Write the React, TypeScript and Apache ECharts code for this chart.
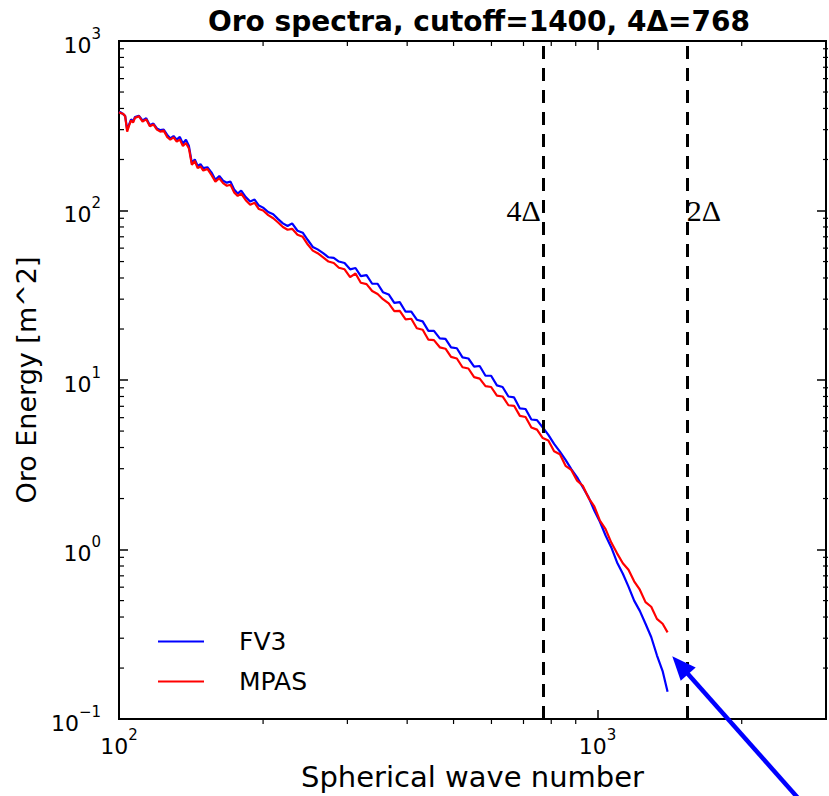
import React, { useEffect, useRef } from 'react';
import * as echarts from 'echarts';

const waveNumbers = [
  100, 101, 102, 103, 104, 105, 106, 107, 108, 110,
  112, 114, 116, 118, 120, 122, 124, 126, 128, 130,
  132, 134, 136, 138, 140, 142, 144, 146, 148, 150,
  153, 156, 159, 162, 165, 168, 171, 174, 177, 180,
  184, 188, 192, 196, 200, 205, 210, 215, 220, 225,
  230, 236, 242, 248, 254, 260, 267, 274, 281, 288,
  296, 304, 312, 320, 329, 338, 347, 356, 366, 376,
  386, 397, 408, 419, 431, 443, 455, 468, 481, 494,
  508, 522, 537, 552, 567, 583, 599, 616, 633, 651,
  669, 688, 707, 727, 747, 768, 789, 811, 834, 857,
  881, 906, 931, 957, 984, 1011, 1039, 1068, 1098, 1129,
  1160, 1192, 1225, 1259, 1294, 1330, 1367, 1400,
];

const fv3Energy = [
  382, 378, 370, 362, 300, 322, 345, 335, 356, 362,
  340, 350, 318, 326, 305, 298, 300, 280, 266, 275,
  262, 272, 248, 262, 240, 190, 200, 183, 188, 178,
  180, 168, 152, 160, 150, 146, 148, 133, 126, 131,
  120, 113, 116, 107, 104, 98, 95, 89, 84, 81,
  84, 76, 74, 67, 61, 59, 56, 53, 52.5, 50,
  49, 45, 45.8, 41, 41.6, 37, 37, 33, 32, 28.5,
  28.8, 25.3, 25.3, 22.7, 22.2, 19.5, 19.5, 17.6, 17.5, 15.6,
  15.4, 13.6, 13.4, 12, 12.1, 10.6, 10.6, 9.3, 9.1, 8,
  7.9, 6.8, 6.75, 5.85, 5.8, 5.25, 4.75, 4.2, 3.78, 3.38,
  2.98, 2.67, 2.33, 2.04, 1.7, 1.46, 1.21, 1.03, 0.84, 0.72,
  0.605, 0.5, 0.435, 0.365, 0.305, 0.238, 0.192, 0.145,
];

const mpasEnergy = [
  380, 375, 372, 360, 292, 318, 340, 330, 352, 360,
  335, 345, 314, 322, 300, 292, 296, 272, 262, 270,
  255, 262, 240, 250, 232, 186, 196, 178, 182, 172,
  176, 162, 148, 155, 145, 140, 142, 128, 122, 126,
  115, 108, 111, 102, 100, 94, 90, 85, 80, 77,
  78, 72, 70, 63, 58, 56, 53, 50, 49, 46,
  45, 40.5, 42.5, 37.5, 36.8, 33.5, 32.2, 30, 28.3, 25.5,
  25.6, 22.8, 23, 20.2, 19.8, 17.3, 17.2, 15.6, 15.3, 13.7,
  13.4, 11.9, 11.7, 10.4, 10.2, 9.2, 9.1, 8.1, 8.0, 7.1,
  7.05, 6.15, 6.05, 5.25, 5.1, 4.55, 4.4, 3.8, 3.65, 3.12,
  2.95, 2.55, 2.38, 2.02, 1.8, 1.48, 1.32, 1.1, 0.95, 0.83,
  0.76, 0.65, 0.58, 0.49, 0.46, 0.39, 0.365, 0.325,
];

const seriesNames = ['FV3', 'MPAS'];
const cutoffLines = [768, 1536];
const cutoffLabels = ['4Δ', '2Δ'];
const labelLevel = 100;
const arrowTipPoint = [1432, 0.235];
const xMinorTicks = [200, 300, 400, 500, 600, 700, 800, 900, 2000];
const yMinorTicks = [
  0.2, 0.3, 0.4, 0.5, 0.6, 0.7, 0.8, 0.9,
  2, 3, 4, 5, 6, 7, 8, 9,
  20, 30, 40, 50, 60, 70, 80, 90,
  200, 300, 400, 500, 600, 700, 800, 900,
];

const W = 829;
const H = 796;
const GRID = { left: 119, top: 41, right: 1, bottom: 72 };
const SANS = 'DejaVu Sans';

export default function App() {
  const ref = useRef<HTMLDivElement>(null);

  useEffect(() => {
    if (!ref.current) return;
    const chart = echarts.init(ref.current, null, { renderer: 'svg' });

    const powLabel = (v: number) => {
      const lg = Math.log10(v);
      const e = Math.round(lg);
      if (Math.abs(lg - e) > 1e-6) return '';
      const exp = e < 0 ? '−' + -e : String(e);
      return `{b|10}{s|${exp}}`;
    };
    const rich = {
      b: { fontSize: 22, fontFamily: SANS, color: '#000', lineHeight: 30, verticalAlign: 'bottom' },
      s: { fontSize: 15, fontFamily: SANS, color: '#000', lineHeight: 30, verticalAlign: 'top' },
    };
    const tick = { inside: true, length: 9, lineStyle: { color: '#000', width: 1.5 } };

    const logX = { type: 'log', logBase: 10, min: 100, max: 3000, splitLine: { show: false }, axisLine: { show: false } };
    const logY = { type: 'log', logBase: 10, min: 0.1, max: 1000, splitLine: { show: false }, axisLine: { show: false } };

    chart.setOption({
      animation: false,
      backgroundColor: '#fff',
      title: {
        text: 'Oro spectra, cutoff=1400, 4Δ=768',
        left: 474,
        top: 2,
        textAlign: 'center',
        textStyle: { fontSize: 28, fontWeight: 'bold', fontFamily: SANS, color: '#000' },
      },
      grid: { ...GRID, show: true, borderColor: '#000', borderWidth: 2, backgroundColor: 'transparent' },
      legend: {
        data: seriesNames,
        orient: 'vertical',
        left: 153,
        top: 624,
        icon: 'rect',
        itemWidth: 46,
        itemHeight: 2,
        itemGap: 15,
        textStyle: { fontSize: 25, fontFamily: SANS, color: '#000', padding: [0, 0, 0, 30] },
      },
      xAxis: [
        {
          ...logX,
          position: 'bottom',
          axisTick: tick,
          axisLabel: { formatter: powLabel, rich, margin: 8, color: '#000' },
          name: 'Spherical wave number',
          nameLocation: 'middle',
          nameGap: 40,
          nameTextStyle: { fontSize: 29, fontFamily: SANS, color: '#000' },
        },
        { ...logX, position: 'top', axisTick: tick, axisLabel: { show: false } },
      ],
      yAxis: [
        {
          ...logY,
          position: 'left',
          axisTick: tick,
          axisLabel: { formatter: powLabel, rich, margin: 18, color: '#000' },
          name: 'Oro Energy [m^2]',
          nameLocation: 'middle',
          nameGap: 77,
          nameTextStyle: { fontSize: 27, fontFamily: SANS, color: '#000' },
        },
        { ...logY, position: 'right', axisTick: tick, axisLabel: { show: false } },
      ],
      series: [
        {
          name: seriesNames[0],
          type: 'line',
          xAxisIndex: 0,
          yAxisIndex: 0,
          data: waveNumbers.map((k, i) => [k, fv3Energy[i]]),
          showSymbol: false,
          lineStyle: { color: '#0000ff', width: 2.2 },
          itemStyle: { color: '#0000ff' },
          z: 2,
        },
        {
          name: seriesNames[1],
          type: 'line',
          xAxisIndex: 0,
          yAxisIndex: 0,
          data: waveNumbers.map((k, i) => [k, mpasEnergy[i]]),
          showSymbol: false,
          lineStyle: { color: '#ff0000', width: 2.2 },
          itemStyle: { color: '#ff0000' },
          z: 3,
          markLine: {
            silent: true,
            symbol: ['none', 'none'],
            label: { show: false },
            lineStyle: { color: '#000', type: [13, 9], width: 3 },
            data: cutoffLines.map((v) => ({ xAxis: v })),
          },
        },
      ],
    });

    const top = GRID.top;
    const bottom = H - GRID.bottom;
    const left = GRID.left;
    const right = W - GRID.right;
    const minorLen = 5;
    const lineStyle = { stroke: '#000', lineWidth: 1.2 };
    const graphics: any[] = [];

    xMinorTicks.forEach((v) => {
      const px = chart.convertToPixel({ xAxisIndex: 0 }, v) as number;
      graphics.push({ type: 'line', silent: true, shape: { x1: px, y1: bottom, x2: px, y2: bottom - minorLen }, style: lineStyle });
      graphics.push({ type: 'line', silent: true, shape: { x1: px, y1: top, x2: px, y2: top + minorLen }, style: lineStyle });
    });
    yMinorTicks.forEach((v) => {
      const py = chart.convertToPixel({ yAxisIndex: 0 }, v) as number;
      graphics.push({ type: 'line', silent: true, shape: { x1: left, y1: py, x2: left + minorLen, y2: py }, style: lineStyle });
      graphics.push({ type: 'line', silent: true, shape: { x1: right, y1: py, x2: right - minorLen, y2: py }, style: lineStyle });
    });

    cutoffLines.forEach((v, i) => {
      const [px, py] = chart.convertToPixel({ gridIndex: 0 }, [v, labelLevel]) as number[];
      graphics.push({
        type: 'text',
        silent: true,
        x: i === 0 ? px - 2 : px,
        y: py,
        style: {
          text: cutoffLabels[i],
          fontSize: 30,
          fontFamily: 'Liberation Serif',
          fill: '#000',
          align: i === 0 ? 'right' : 'left',
          verticalAlign: 'middle',
        },
      });
    });

    const [tx, ty] = chart.convertToPixel({ gridIndex: 0 }, arrowTipPoint) as number[];
    const dx = 125;
    const dy = 141;
    const len = Math.sqrt(dx * dx + dy * dy);
    const ux = dx / len;
    const uy = dy / len;
    const headL = 24;
    const headW = 10;
    const bx = tx + ux * headL;
    const by = ty + uy * headL;
    graphics.push({
      type: 'line',
      silent: true,
      z: 100,
      shape: { x1: bx - ux * 2, y1: by - uy * 2, x2: tx + dx + ux * 20, y2: ty + dy + uy * 20 },
      style: { stroke: '#0000ff', lineWidth: 4.5 },
    });
    graphics.push({
      type: 'polygon',
      silent: true,
      z: 100,
      shape: { points: [[tx, ty], [bx - uy * headW, by + ux * headW], [bx + uy * headW, by - ux * headW]] },
      style: { fill: '#0000ff' },
    });

    chart.setOption({ graphic: graphics });

    return () => chart.dispose();
  }, []);

  return <div ref={ref} style={{ position: 'absolute', left: 0, top: 0, width: W, height: H }} />;
}
